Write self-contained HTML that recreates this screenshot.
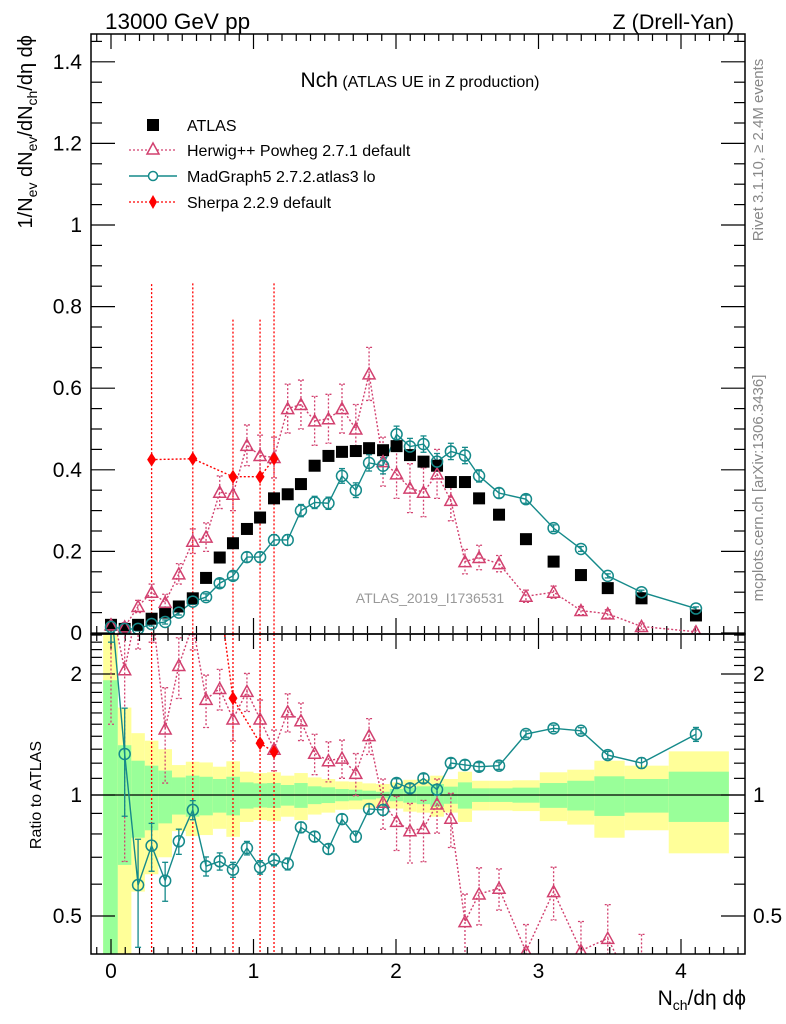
<!DOCTYPE html>
<html><head><meta charset="utf-8">
<style>
html,body{margin:0;padding:0;background:#fff;overflow:hidden;width:786px;height:1024px;position:relative;}
svg{position:absolute;left:0;top:0;display:block;font-family:"Liberation Sans",sans-serif;overflow:hidden;}
</style></head>
<body>
<svg id="chart" width="786" height="1024" viewBox="0 0 786 1024" xmlns="http://www.w3.org/2000/svg">
<defs>
<clipPath id="clipMain"><rect x="91" y="34" width="654" height="600"/></clipPath>
<clipPath id="clipRatio"><rect x="91" y="634" width="654" height="320"/></clipPath>
</defs>
<g id="bands" clip-path="url(#clipRatio)"></g>
<g id="ticks"></g>
<line x1="91" y1="795" x2="745" y2="795" stroke="#000" stroke-width="1.2"/>
<g id="ratioSeries" clip-path="url(#clipRatio)"></g>
<g id="mainSeries" clip-path="url(#clipMain)"></g>
<rect x="91" y="34" width="654" height="600" fill="none" stroke="#000" stroke-width="1.5"/>
<rect x="91" y="634" width="654" height="320" fill="none" stroke="#000" stroke-width="1.5"/>
<g id="tickLabels" font-size="21" fill="#000"></g>

<text x="105" y="29" font-size="22.5">13000 GeV pp</text>
<text x="734" y="29" font-size="21.5" text-anchor="end">Z (Drell-Yan)</text>
<text x="420" y="87" text-anchor="middle"><tspan font-size="21">Nch</tspan><tspan font-size="16"> (ATLAS UE in Z production)</tspan></text>

<g font-size="16">
 <g>
  <rect x="147" y="119" width="12" height="12" fill="#000"/>
  <text x="187" y="131">ATLAS</text></g>
 <g>
  <line x1="129" y1="150" x2="177" y2="150" stroke="#d2406f" stroke-dasharray="2,2" stroke-width="1.3"/>
  <polygon points="153,143 159,154 147,154" fill="#fff" stroke="#d2406f" stroke-width="1.5"/>
  <text x="187" y="156">Herwig++ Powheg 2.7.1 default</text></g>
 <g>
  <line x1="129" y1="176" x2="177" y2="176" stroke="#158a8a" stroke-width="1.5"/>
  <circle cx="153" cy="176" r="4.5" fill="#fff" stroke="#158a8a" stroke-width="1.5"/>
  <text x="187" y="182">MadGraph5 2.7.2.atlas3 lo</text></g>
 <g>
  <line x1="129" y1="202" x2="177" y2="202" stroke="#f00" stroke-dasharray="2,2" stroke-width="1.3"/>
  <polygon points="153,195 157,202 153,209 149,202" fill="#f00"/>
  <text x="187" y="208">Sherpa 2.2.9 default</text></g>
</g>

<text x="430" y="603" font-size="14" fill="#999" text-anchor="middle">ATLAS_2019_I1736531</text>
<text transform="translate(763,150) rotate(-90)" font-size="15" fill="#888" text-anchor="middle">Rivet 3.1.10, ≥ 2.4M events</text>
<text transform="translate(763,488) rotate(-90)" font-size="15" fill="#888" text-anchor="middle">mcplots.cern.ch [arXiv:1306.3436]</text>

<text transform="translate(32,35) rotate(-90)" font-size="20" text-anchor="end">1/N<tspan font-size="14" dy="5">ev</tspan><tspan dy="-5"> dN</tspan><tspan font-size="14" dy="5">ev</tspan><tspan dy="-5">/dN</tspan><tspan font-size="14" dy="5">ch</tspan><tspan dy="-5">/dη dϕ</tspan></text>
<text transform="translate(41,795) rotate(-90)" font-size="16" text-anchor="middle">Ratio to ATLAS</text>
<text x="746" y="1005" font-size="21" text-anchor="end">N<tspan font-size="14" dy="5">ch</tspan><tspan dy="-5">/dη dϕ</tspan></text>
</svg>
<script>
// ---- data ----
const xs = [0,0.096,0.19,0.285,0.38,0.476,0.574,0.667,0.763,0.856,0.954,1.046,1.144,1.24,1.333,1.429,1.526,1.621,1.718,1.811,1.909,2.004,2.098,2.193,2.288,2.385,2.484,2.583,2.723,2.912,3.106,3.298,3.486,3.723,4.105];
const atlas = [0.02,0.01,0.02,0.035,0.05,0.065,0.085,0.135,0.185,0.22,0.255,0.283,0.33,0.34,0.365,0.41,0.434,0.444,0.446,0.453,0.448,0.458,0.436,0.42,0.41,0.37,0.37,0.33,0.29,0.23,0.175,0.142,0.11,0.085,0.043];
const herwig = [0.02,0.015,0.065,0.1,0.075,0.145,0.225,0.235,0.345,0.34,0.46,0.435,0.43,0.55,0.56,0.52,0.525,0.55,0.5,0.635,0.42,0.39,0.355,0.345,0.39,0.325,0.175,0.185,0.17,0.09,0.1,0.055,0.047,0.016,0.003];
const herwigErr = [0.01,0.01,0.015,0.02,0.02,0.025,0.03,0.035,0.04,0.04,0.05,0.05,0.05,0.06,0.06,0.06,0.06,0.06,0.06,0.065,0.06,0.06,0.06,0.06,0.06,0.05,0.03,0.03,0.02,0.015,0.015,0.01,0.01,0.008,0.005];
const madgraph = [0.015,0.01,0.01,0.022,0.027,0.05,0.077,0.088,0.122,0.14,0.186,0.186,0.228,0.228,0.30,0.32,0.318,0.385,0.35,0.417,0.41,0.487,0.457,0.463,0.42,0.445,0.435,0.385,0.343,0.328,0.257,0.206,0.14,0.1,0.06];
const madgraphErr = [0.005,0.005,0.005,0.005,0.005,0.006,0.007,0.008,0.01,0.01,0.012,0.012,0.013,0.013,0.015,0.015,0.015,0.018,0.018,0.02,0.02,0.02,0.02,0.02,0.02,0.02,0.02,0.015,0.012,0.01,0.008,0.006,0.005,0.005,0.004];
const sherpaX = [0.285,0.574,0.856,1.046,1.144];
const sherpa = [0.425,0.427,0.383,0.383,0.427];
const sherpaErr = [0.43,0.43,0.385,0.385,0.43];
const madgraphRatio = [3.0,1.265,0.597,0.748,0.612,0.767,0.918,0.665,0.684,0.652,0.738,0.661,0.690,0.674,0.831,0.788,0.734,0.871,0.788,0.923,0.918,1.071,1.039,1.10,1.031,1.201,1.188,1.176,1.183,1.418,1.465,1.445,1.257,1.201,1.416];
const herwigRatio = [3,2.05,3,3,1.46,2.1,2.65,1.73,1.84,1.545,1.81,1.545,1.30,1.61,1.53,1.27,1.217,1.235,1.132,1.405,0.959,0.86,0.815,0.826,0.95,0.875,0.484,0.567,0.586,0.408,0.575,0.41,0.44,0.3,0.1];
const sherpaRatio = [12,10,1.74,1.345,1.28];
const greenErr = [0.93,0.33,0.217,0.183,0.15,0.106,0.117,0.11,0.096,0.11,0.075,0.069,0.071,0.059,0.071,0.051,0.045,0.035,0.031,0.025,0.019,0.035,0.043,0.051,0.065,0.049,0.075,0.039,0.039,0.043,0.071,0.085,0.113,0.096,0.143];
const yellowErr = [1.6,0.65,0.425,0.365,0.30,0.187,0.21,0.205,0.176,0.213,0.143,0.134,0.139,0.117,0.134,0.106,0.096,0.081,0.079,0.069,0.065,0.075,0.091,0.096,0.117,0.096,0.143,0.085,0.085,0.088,0.139,0.156,0.217,0.183,0.284];
const xTicks = [0,1,2,3,4];
const yTicks = [0,0.2,0.4,0.6,0.8,1,1.2,1.4];
const yTickLabels = ["0","0.2","0.4","0.6","0.8","1","1.2","1.4"];
const rTicks = [0.5,1,2];
const rTickLabels = ["0.5","1","2"];

// ---- axes ----
const X = x => 111 + 142.5 * x;
const Y = v => 633 - 408 * v;
const YR = r => 795 - 121 * Math.log2(Math.max(r, 0.01));
const RIGHT = 745, RBOT = 954;
const NS = "http://www.w3.org/2000/svg";
function mk(tag, attrs, parent) {
  const e = document.createElementNS(NS, tag);
  for (const k in attrs) e.setAttribute(k, attrs[k]);
  parent.appendChild(e);
  return e;
}
const HC = "#d2406f", MC = "#158a8a", SC = "#ff0000";

// bands
const bands = document.getElementById('bands');
for (let i = 0; i < xs.length; i++) {
  const l = i === 0 ? xs[0] - 0.055 : (xs[i-1] + xs[i]) / 2;
  const r = i === xs.length - 1 ? xs[i] + (xs[i] - (xs[i-1] + xs[i]) / 2) + 0.04 : (xs[i] + xs[i+1]) / 2;
  const yl = mk('rect', {x: X(l), width: X(r) - X(l), y: YR(1 + yellowErr[i]), height: YR(Math.max(1 - yellowErr[i], 0.01)) - YR(1 + yellowErr[i]), fill: '#ffff99'}, bands);
  
  
  const gr = mk('rect', {x: X(l), width: X(r) - X(l), y: YR(1 + greenErr[i]), height: YR(Math.max(1 - greenErr[i], 0.01)) - YR(1 + greenErr[i]), fill: '#99ff99'}, bands);
  
  
}

// ticks
const tk = document.getElementById('ticks');
function tline(x1, y1, x2, y2) { mk('line', {x1, y1, x2, y2, stroke: '#000', 'stroke-width': 1.2}, tk); }
for (let k = -1; k <= 46; k++) {
  const v = k / 10; const px = X(v);
  if (px < 92 || px > RIGHT - 1) continue;
  const L = (k % 10 === 0) ? 15 : 7;
  tline(px, 633, px, 633 - L); tline(px, 34, px, 34 + L);
  tline(px, RBOT, px, RBOT - L); tline(px, 634, px, 634 + L);
}
for (let k = 0; k <= 29; k++) {
  const v = k * 0.05; const py = Y(v);
  const L = (k % 4 === 0) ? 24 : 11;
  tline(91, py, 91 + L, py); tline(RIGHT, py, RIGHT - L, py);
}
const rminor = [0.5,0.6,0.7,0.8,0.9,1,1.1,1.2,1.3,1.4,1.5,1.6,1.7,1.8,1.9,2,2.1,2.2,2.3,2.4,2.5];
rminor.forEach(r => {
  const L = (r === 0.5 || r === 1 || r === 2) ? 24 : 11;
  tline(91, YR(r), 91 + L, YR(r)); tline(RIGHT, YR(r), RIGHT - L, YR(r));
});

// tick labels
const tl = document.getElementById('tickLabels');
xTicks.forEach(v => {
  const t = mk('text', {x: X(v), y: 978, 'text-anchor': 'middle'}, tl);
  
  
  t.textContent = String(v);
});
yTicks.forEach((v, i) => {
  const t = mk('text', {x: 82, y: Y(v) + 7, 'text-anchor': 'end'}, tl);
  
  
  t.textContent = yTickLabels[i];
});
rTicks.forEach((v, i) => {
  const t = mk('text', {x: 82, y: YR(v) + 7, 'text-anchor': 'end'}, tl);
  
  
  t.textContent = rTickLabels[i];
  const t2 = mk('text', {x: 753, y: YR(v) + 7}, tl);
  
  
  t2.textContent = rTickLabels[i];
});

// markers
function tri(g, cx, cy, c) {
  const p = mk('polygon', {points: `${cx},${cy-6} ${cx+6},${cy+5} ${cx-6},${cy+5}`, fill: 'none', stroke: c, 'stroke-width': 1.5}, g);
  
  
}
function circ(g, cx, cy) {
  const p = mk('circle', {cx, cy, r: 5.5, fill: 'none', stroke: MC, 'stroke-width': 1.5}, g);
  
  
}
function diam(g, cx, cy) {
  const p = mk('polygon', {points: `${cx},${cy-7} ${cx+4.5},${cy} ${cx},${cy+7} ${cx-4.5},${cy}`, fill: SC}, g);
  
  
}
function ebar(g, px, y1, y2, c, dashed) {
  const a = {x1: px, x2: px, y1, y2, stroke: c, 'stroke-width': 1.3};
  if (dashed) a['stroke-dasharray'] = '2,2';
  mk('line', a, g);
  mk('line', {x1: px - 3, x2: px + 3, y1, y2: y1, stroke: c, 'stroke-width': 1.3, 'stroke-dasharray': dashed ? '2,2' : 'none'}, g);
  mk('line', {x1: px - 3, x2: px + 3, y1: y2, y2: y2, stroke: c, 'stroke-width': 1.3, 'stroke-dasharray': dashed ? '2,2' : 'none'}, g);
}
function poly(g, pts, c, dashed, name) {
  const a = {points: pts.map(p => p.join(',')).join(' '), fill: 'none', stroke: c, 'stroke-width': 1.4};
  if (dashed) a['stroke-dasharray'] = '2,2';
  const p = mk('polyline', a, g);
  
  
}

// main panel
const mg = document.getElementById('mainSeries');
poly(mg, sherpaX.map((x, i) => [X(x), Y(sherpa[i])]), SC, true, 'sherpa-line');
sherpaX.forEach((x, i) => mk('line', {x1: X(x), x2: X(x), y1: Y(sherpa[i] + sherpaErr[i]), y2: Y(sherpa[i] - sherpaErr[i]), stroke: SC, 'stroke-width': 1.3, 'stroke-dasharray': '2,2'}, mg));
poly(mg, xs.map((x, i) => [X(x), Y(herwig[i])]), HC, true, 'herwig-line');
xs.forEach((x, i) => ebar(mg, X(x), Y(herwig[i] + herwigErr[i]), Y(herwig[i] - herwigErr[i]), HC, true));
poly(mg, xs.map((x, i) => [X(x), Y(madgraph[i])]), MC, false, 'madgraph-line');
xs.forEach((x, i) => ebar(mg, X(x), Y(madgraph[i] + madgraphErr[i]), Y(madgraph[i] - madgraphErr[i]), MC, false));
xs.forEach((x, i) => {
  const s = mk('rect', {x: X(x) - 6, y: Y(atlas[i]) - 6, width: 12, height: 12, fill: '#000'}, mg);
  
  
});
xs.forEach((x, i) => tri(mg, X(x), Y(herwig[i]), HC));
xs.forEach((x, i) => circ(mg, X(x), Y(madgraph[i])));
sherpaX.forEach((x, i) => diam(mg, X(x), Y(sherpa[i])));

// ratio panel
const rg = document.getElementById('ratioSeries');
poly(rg, sherpaX.map((x, i) => [X(x), YR(sherpaRatio[i])]), SC, true, 'sherpa-ratio-line');
sherpaX.forEach((x, i) => mk('line', {x1: X(x), x2: X(x), y1: 634, y2: RBOT, stroke: SC, 'stroke-width': 1.3, 'stroke-dasharray': '2,2'}, rg));
poly(rg, xs.map((x, i) => [X(x), YR(herwigRatio[i])]), HC, true, 'herwig-ratio-line');
xs.forEach((x, i) => { const e = herwigRatio[i] * herwigErr[i] / Math.max(herwig[i], 0.01); ebar(rg, X(x), YR(herwigRatio[i] + e), YR(Math.max(herwigRatio[i] - e, 0.05)), HC, true); });
poly(rg, xs.map((x, i) => [X(x), YR(madgraphRatio[i])]), MC, false, 'madgraph-ratio-line');
xs.forEach((x, i) => { const e = madgraphRatio[i] * madgraphErr[i] / Math.max(madgraph[i], 0.005) * 0.6; ebar(rg, X(x), YR(madgraphRatio[i] + e), YR(Math.max(madgraphRatio[i] - e, 0.05)), MC, false); });
xs.forEach((x, i) => tri(rg, X(x), YR(herwigRatio[i]), HC));
xs.forEach((x, i) => circ(rg, X(x), YR(madgraphRatio[i])));
sherpaX.forEach((x, i) => diam(rg, X(x), YR(sherpaRatio[i])));
</script>
</body></html>
